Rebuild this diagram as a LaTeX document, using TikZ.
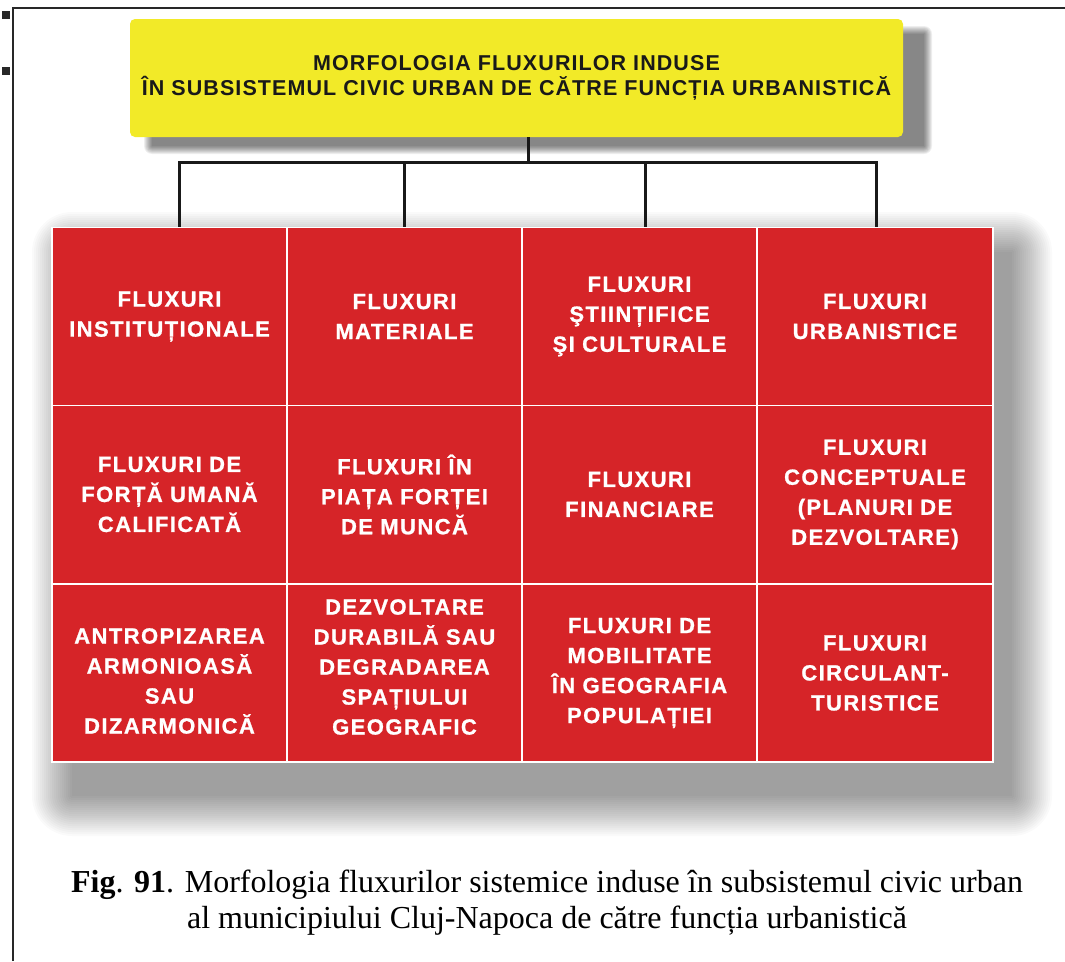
\documentclass[tikz,border=0pt]{standalone}
\usepackage{fontspec}
\setmainfont{Liberation Serif}
\newfontfamily\cellfont{Liberation Sans}[LetterSpace=6.5, FakeBold=1]
\newfontfamily\titlefont{Liberation Sans}[LetterSpace=5]
\definecolor{cellred}{RGB}{214,36,40}
\definecolor{titleyellow}{RGB}{242,234,40}
\definecolor{framegrey}{RGB}{40,40,40}
\tikzset{
  cellbox/.style={draw=white, line width=1.6pt, fill=cellred, minimum width=235.5pt,
    minimum height=178pt, inner sep=0pt},
  celltext/.style={inner sep=0pt, text width=228pt, align=center, text=white,
    font=\cellfont\bfseries\fontsize{22}{30}\selectfont},
  cell/.style={cellbox, celltext},
  titlebox/.style={fill=titleyellow, rounded corners=5pt, minimum width=773pt,
    minimum height=118pt, inner sep=0pt, align=center, text=black!90,
    font=\titlefont\bfseries\fontsize{21.5}{25}\selectfont},
  conn/.style={line width=3pt, draw=black!90},
  frameline/.style={line width=2pt, draw=framegrey},
  captext/.style={align=center, inner sep=0pt, font=\fontsize{32}{36}\selectfont}
}
\begin{document}
\begin{tikzpicture}[x=1pt,y=-1pt]
\useasboundingbox (0,0) rectangle (1065,961);
\fill[white] (0,0) rectangle (1065,961);
% frame
\draw[frameline] (13,961) -- (13,8) -- (1065,8);
\fill[framegrey] (2,11) rectangle (10,19);
\fill[framegrey] (2,67) rectangle (10,75);
% grid shadow
\foreach \r in {0,2,...,40}
  \fill[black,opacity=0.021,rounded corners=\r pt] ({72-\r},{252-\r}) rectangle ({1012+\r},{796+\r});
% title shadow
\foreach \r in {0,1,...,8}
  \fill[black,opacity=0.065,rounded corners=\r pt] ({152-\r},{34-\r}) rectangle ({924+\r},{146+\r});
% title
\node[titlebox] (title) at (516.5,78) {MORFOLOGIA FLUXURILOR INDUSE\\ÎN SUBSISTEMUL CIVIC URBAN DE CĂTRE FUNCȚIA URBANISTICĂ};
% cells
\node[cell] (c11) at (169.5,316.5) {FLUXURI\\INSTITUȚIONALE};
\node[cell] (c12) at (404.5,316.5) {FLUXURI\\MATERIALE};
\node[cell] (c13) at (639.5,316.5) {FLUXURI\\ŞTIINȚIFICE\\ŞI CULTURALE};
\node[cell] (c14) at (875,316.5) {FLUXURI\\URBANISTICE};
\node[cell] (c21) at (169.5,494.5) {FLUXURI DE\\FORȚĂ UMANĂ\\CALIFICATĂ};
\node[cell] (c22) at (404.5,494.5) {FLUXURI ÎN\\PIAȚA FORȚEI\\DE MUNCĂ};
\node[cell] (c23) at (639.5,494.5) {FLUXURI\\FINANCIARE};
\node[cell] (c24) at (875,494.5) {FLUXURI\\CONCEPTUALE\\(PLANURI DE\\DEZVOLTARE)};
\node[cellbox] (c31) at (169.5,673) {};
\node[celltext] (t31) at ([yshift=-8pt]c31.center) {ANTROPIZAREA\\ARMONIOASĂ\\SAU\\DIZARMONICĂ};
\node[cellbox] (c32) at (404.5,673) {};
\node[celltext] (t32) at ([yshift=6pt]c32.center) {DEZVOLTARE\\DURABILĂ SAU\\DEGRADAREA\\SPAȚIULUI\\GEOGRAFIC};
\node[cell] (c33) at (639.5,673) {FLUXURI DE\\MOBILITATE\\ÎN GEOGRAFIA\\POPULAȚIEI};
\node[cell] (c34) at (875,673) {FLUXURI\\CIRCULANT-\\TURISTICE};
% connectors
\coordinate (trunk) at (528,162);
\coordinate (b1) at (179,162);
\coordinate (b2) at (404,162);
\coordinate (b3) at (645,162);
\coordinate (b4) at (876,162);
\draw[conn] (trunk |- title.south) -- (trunk);
\draw[conn, line cap=rect] (b1) -- (b4);
\draw[conn] (b1) -- (b1 |- c11.north);
\draw[conn] (b2) -- (b2 |- c12.north);
\draw[conn] (b3) -- (b3 |- c13.north);
\draw[conn] (b4) -- (b4 |- c14.north);
% caption
\node[captext] (cap) at (547,903) {\textbf{Fig}. \textbf{91}. Morfologia fluxurilor sistemice induse în subsistemul civic urban\\al municipiului Cluj-Napoca de către funcția urbanistică};
\end{tikzpicture}
\end{document}
